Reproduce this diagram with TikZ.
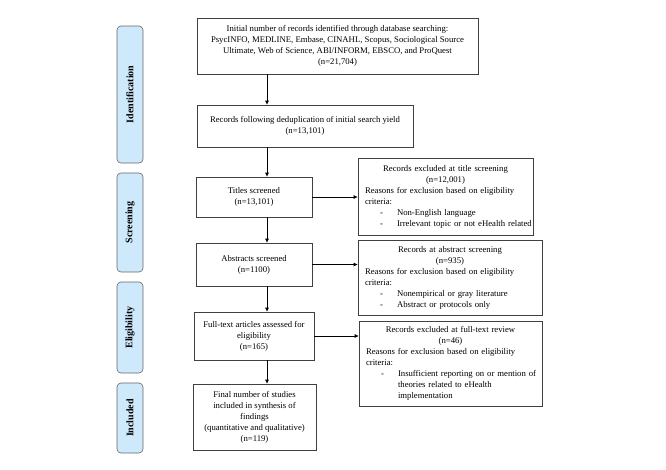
\documentclass[tikz,border=0pt]{standalone}
\usepackage{fontspec}
\setmainfont{Liberation Serif}
\usepackage{tikz}
\usetikzlibrary{arrows.meta,positioning,calc}

\definecolor{phaseblue}{RGB}{206,233,252}
\newcommand{\dashitem}[1]{\mbox{\makebox[32pt][l]{\hspace*{15pt}-}#1}}
\newcommand{\hangline}[1]{\mbox{\hspace*{32pt}#1}}
\newcommand{\headline}[1]{\makebox[\hsize]{#1}}

\begin{document}
\begin{tikzpicture}[x=1pt,y=-1pt,
			box/.style={rectangle,draw=black!75,semithick,inner sep=0pt,align=center,
				font=\fontsize{8.7}{11}\selectfont},
			excl/.style={box,align=left,inner xsep=7pt},
			phase/.style={rectangle,rounded corners=4pt,draw=black!60,semithick,fill=phaseblue,
				rotate=90,minimum height=26pt,inner sep=0pt,font=\fontsize{10}{12}\selectfont\bfseries},
			arr/.style={-{Latex[length=4pt,width=4pt]},black,semithick}]
		\useasboundingbox (0,0) rectangle (666,469);
		% phases on the left
		\path 	(130,94.5) 	node 	(ident) [phase, minimum width=137pt] {Identification}
		        (130,222.5) node 	(screen) [phase, minimum width=99pt] {Screening}
		        (130,327.5) node 	(elig) [phase, minimum width=91pt] {Eligibility}
		        (130,418) 	node 	(incl) [phase, minimum width=70pt] {Included};
		% main column
		\path 	(337.5,46) 	node 	(search) [box, minimum width=281pt, minimum height=56pt]
		            {Initial number of records identified through database searching:\\
		             PsycINFO, MEDLINE, Embase, CINAHL, Scopus, Sociological Source\\
		             Ultimate, Web of Science, ABI/INFORM, EBSCO, and ProQuest\\
		             (n=21,704)}
		        (305,126) 	node 	(dedup) [box, minimum width=216pt, minimum height=42pt]
		            {Records following deduplication of initial search yield\\(n=13,101)}
		        (254,197) 	node 	(titles) [box, minimum width=116pt, minimum height=40pt]
		            {Titles screened\\(n=13,101)}
		        (254,264.5) node 	(abstr) [box, minimum width=116pt, minimum height=43pt]
		            {Abstracts screened\\(n=1100)}
		        (254,336) 	node 	(fulltext) [box, minimum width=120pt, minimum height=48pt]
		            {Full-text articles assessed for\\eligibility\\(n=165)}
		        (254.5,417) node 	(final) [box, minimum width=123pt, minimum height=66pt]
		            {Final number of studies\\included in synthesis of\\findings\\
		             (quantitative and qualitative)\\(n=119)};
		% exclusions on the right
		\path 	(445.5,196.5) node 	(exclA) [excl, text width=161pt, minimum height=77pt]
		            {\headline{Records excluded at title screening}\\
		             \headline{(n=12,001)}\\
		             Reasons for exclusion based on eligibility\\criteria:\\
		             \dashitem{Non-English language}\\
		             \dashitem{Irrelevant topic or not eHealth related}}
		        (450,277.5) node 	(exclB) [excl, text width=170pt, minimum height=75pt]
		            {\headline{Records at abstract screening}\\
		             \headline{(n=935)}\\
		             Reasons for exclusion based on eligibility\\criteria:\\
		             \dashitem{Nonempirical or gray literature}\\
		             \dashitem{Abstract or protocols only}}
		        (450.5,363.5) node 	(exclC) [excl, text width=169pt, minimum height=85pt]
		            {\headline{Records excluded at full-text review}\\
		             \headline{(n=46)}\\
		             Reasons for exclusion based on eligibility\\criteria:\\
		             \dashitem{Insufficient reporting on or mention of}\\
		             \hangline{theories related to eHealth}\\
		             \hangline{implementation}};
		\coordinate (spine) at (267,0);
		\draw [arr] (search.south -| spine) -- (dedup.north -| spine);
		\draw [arr] (dedup.south -| spine) -- (titles.north -| spine);
		\draw [arr] (titles.south -| spine) -- (abstr.north -| spine);
		\draw [arr] (abstr.south -| spine) -- (fulltext.north -| spine);
		\draw [arr] (fulltext.south -| spine) -- (final.north -| spine);
		\draw [arr] (titles.east) -- (titles.east -| exclA.west);
		\draw [arr] (abstr.east) -- (abstr.east -| exclB.west);
		\draw [arr] (fulltext.east) -- (fulltext.east -| exclC.west);
	\end{tikzpicture}
\end{document}
